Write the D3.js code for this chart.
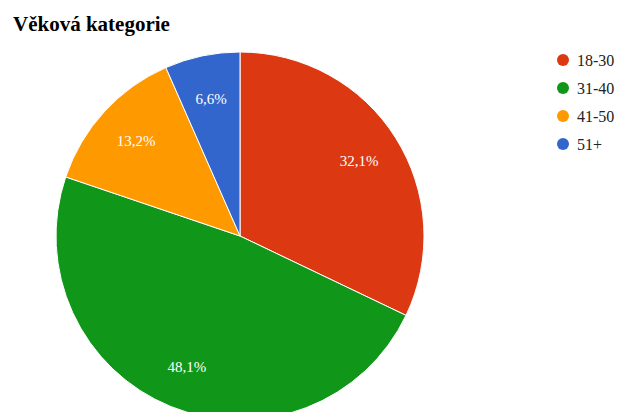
<!DOCTYPE html>
<html><head><meta charset="utf-8">
<script src="https://cdn.jsdelivr.net/npm/d3@7"></script>
<style>body{margin:0;background:#fff}svg{display:block}</style>
</head><body>
<script>
const categories = ["18-30", "31-40", "41-50", "51+"];
const values = [32.1, 48.1, 13.2, 6.6];
const labels = ["32,1%", "48,1%", "13,2%", "6,6%"];
const colors = ["#dc3912", "#109618", "#ff9900", "#3366cc"];
const title = "Věková kategorie";

const W = 623, H = 412;
const svg = d3.select("body").append("svg").attr("width", W).attr("height", H);
const cx = 240, cy = 236, r = 184;

svg.append("text").attr("x", 13).attr("y", 31)
  .attr("font-family", "Liberation Serif, Times New Roman, serif")
  .attr("font-weight", "bold").attr("font-size", 21).attr("fill", "#000")
  .text(title);

const data = categories.map((c, i) => ({c, v: values[i], l: labels[i], col: colors[i]}));
const pie = d3.pie().value(d => d.v).sort(null);
const arc = d3.arc().innerRadius(0).outerRadius(r);
const labelArc = d3.arc().innerRadius(r * 0.765).outerRadius(r * 0.765);
const g = svg.append("g").attr("transform", `translate(${cx},${cy})`);
const arcs = pie(data);
g.selectAll("path").data(arcs).join("path")
  .attr("d", arc).attr("fill", d => d.data.col)
  .attr("stroke", "#fff").attr("stroke-width", 1);
g.selectAll("text").data(arcs).join("text")
  .attr("transform", d => `translate(${labelArc.centroid(d)})`)
  .attr("text-anchor", "middle").attr("dy", "0.35em")
  .attr("font-family", "Liberation Serif, Times New Roman, serif")
  .attr("font-size", 15).attr("fill", "#fff")
  .text(d => d.data.l);

const y = d3.scalePoint().domain(categories).range([60, 144]);
const leg = svg.append("g");
leg.selectAll("circle").data(data).join("circle")
  .attr("cx", 563).attr("cy", d => y(d.c)).attr("r", 6).attr("fill", d => d.col);
leg.selectAll("text").data(data).join("text")
  .attr("x", 577).attr("y", d => y(d.c)).attr("dy", "0.35em")
  .attr("font-family", "Liberation Serif, Times New Roman, serif")
  .attr("font-size", 16).attr("fill", "#222")
  .text(d => d.c);
</script>
</body></html>
